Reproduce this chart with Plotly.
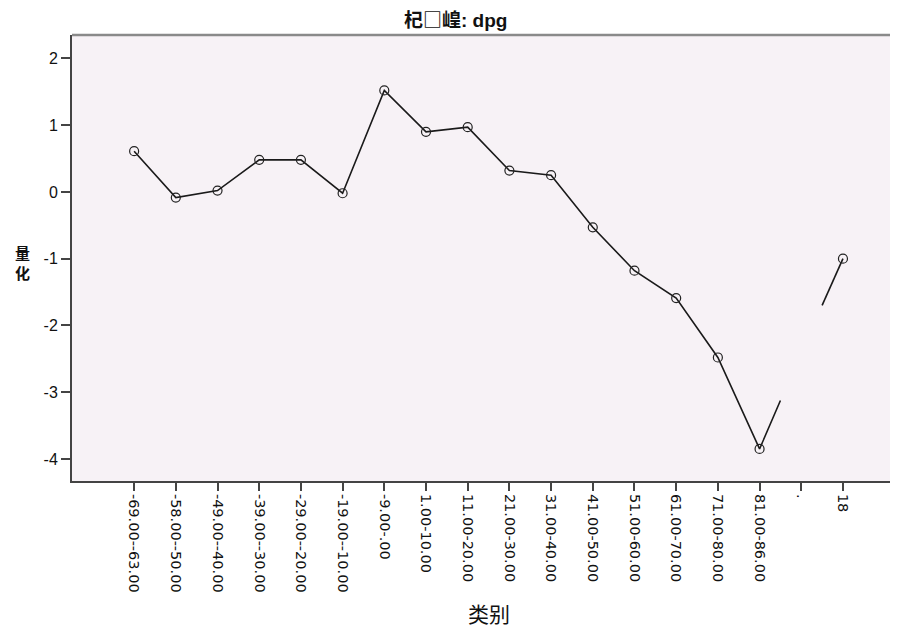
import plotly.graph_objects as go

categories = ["-69.00--63.00", "-58.00--50.00", "-49.00--40.00", "-39.00--30.00",
              "-29.00--20.00", "-19.00--10.00", "-9.00-.00", "1.00-10.00",
              "11.00-20.00", "21.00-30.00", "31.00-40.00", "41.00-50.00",
              "51.00-60.00", "61.00-70.00", "71.00-80.00", "81.00-86.00",
              ".", "18"]
values = [0.61, -0.085, 0.02, 0.48, 0.48, -0.02, 1.52, 0.90, 0.97,
          0.32, 0.25, -0.53, -1.18, -1.59, -2.48, -3.85, -2.40, -1.00]
missing_category = "."

title_cjk = "杞□崲"
title_rest = ": dpg"
y_title = "量化"
x_title = "类别"
y_ticks = [2, 1, 0, -1, -2, -3, -4]

FONT = "Liberation Sans, Arial, Noto Sans CJK SC, sans-serif"
CJK = "Noto Sans CJK SC"
positions = list(range(len(categories)))
miss = categories.index(missing_category)

# line: full segments for valid points, half segments towards the missing category
lx, ly = [], []
for i in positions:
    if i == miss:
        lx += [(positions[i - 1] + positions[i]) / 2, None]
        ly += [(values[i - 1] + values[i]) / 2, None]
        lx += [(positions[i] + positions[i + 1]) / 2]
        ly += [(values[i] + values[i + 1]) / 2]
    else:
        lx.append(positions[i])
        ly.append(values[i])

mx = [p for p in positions if p != miss]
my = [values[p] for p in positions if p != miss]

fig = go.Figure()
fig.add_trace(go.Scatter(x=lx, y=ly, mode="lines", connectgaps=False,
                         line=dict(color="#1a1a1a", width=1.6), hoverinfo="skip",
                         showlegend=False))
fig.add_trace(go.Scatter(x=mx, y=my, mode="markers",
                         marker=dict(symbol="circle-open", size=9,
                                     color="#222222", line=dict(width=1.2)),
                         showlegend=False))

fig.update_layout(
    width=890, height=622,
    margin=dict(l=64, r=0, t=27, b=149),
    paper_bgcolor="white",
    plot_bgcolor="#F7F2F6",
    font=dict(family=FONT, color="#111111"),
    xaxis=dict(
        range=[-1.49, 18.32], tickmode="array", tickvals=positions,
        ticktext=categories, tickangle=90, ticks="outside", ticklen=8,
        tickwidth=1.5, tickcolor="#444444", showgrid=False, zeroline=False,
        showline=True, linecolor="#444444", linewidth=2,
        tickfont=dict(family="DejaVu Sans", size=14.5, color="#111111"),
    ),
    yaxis=dict(
        range=[-4.33, 2.35], tickmode="array", tickvals=y_ticks,
        ticktext=[str(t) for t in y_ticks], ticks="outside", ticklen=9,
        tickwidth=1.5, tickcolor="#444444", showgrid=False, zeroline=False,
        showline=True, linecolor="#444444", linewidth=2,
        tickfont=dict(size=16, color="#111111"),
    ),
)

fig.add_shape(type="line", xref="paper", yref="paper", x0=0, x1=1, y0=1, y1=1,
              line=dict(color="#8a8a8a", width=2.5))

fig.add_annotation(
    text="<b>" + title_cjk + "<span style='font-family:Liberation Sans'>" + title_rest + "</span></b>",
    xref="paper", yref="paper", x=0.464, y=1.038, showarrow=False,
    xanchor="center", yanchor="middle", font=dict(family=CJK, size=19, color="#111111"))
fig.add_annotation(text="<b>" + "<br>".join(y_title) + "</b>", xref="paper", yref="paper",
                   x=-0.0605, y=0.491, showarrow=False, xanchor="center", yanchor="middle",
                   font=dict(family=CJK, size=15, color="#111111"))
fig.add_annotation(text=x_title, xref="paper", yref="paper",
                   x=0.505, y=-0.296, showarrow=False, xanchor="center", yanchor="middle",
                   font=dict(family=CJK, size=21, color="#111111"))

fig.write_html("out.html")
